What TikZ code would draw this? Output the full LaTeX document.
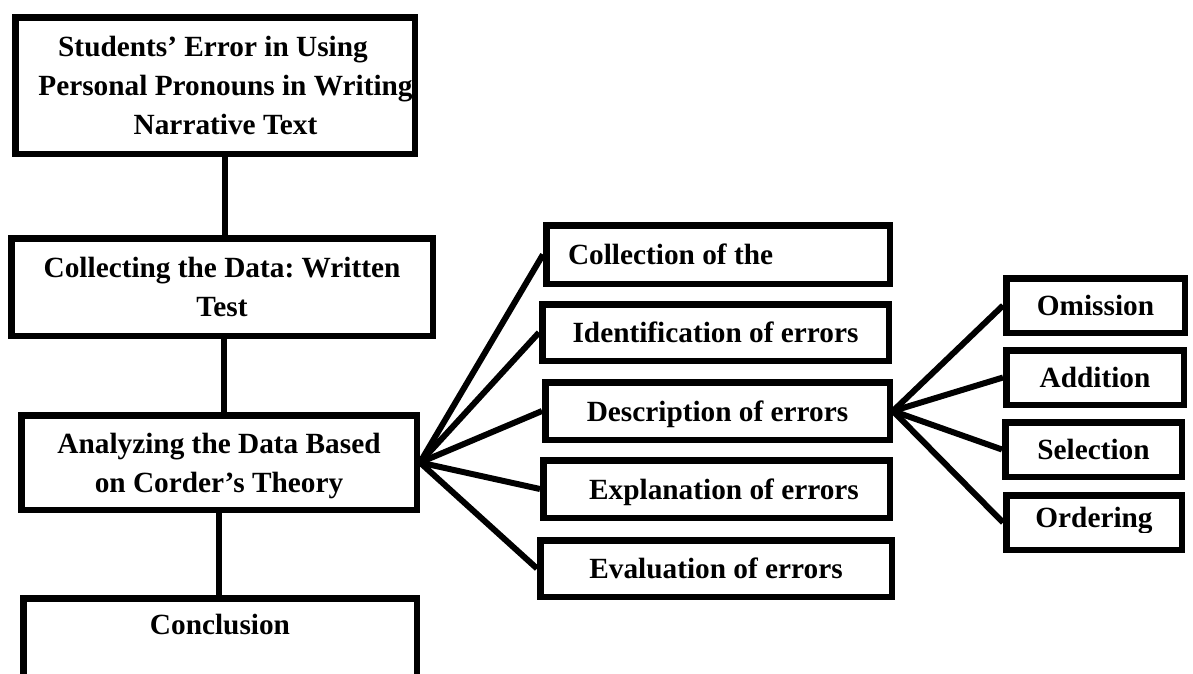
\documentclass[tikz,border=0pt]{standalone}
\usepackage{fontspec}
\setmainfont{Liberation Serif}
\begin{document}
\begin{tikzpicture}[x=1pt,y=-1pt,
  txt/.style={inner sep=0pt, align=center, font=\fontsize{29.3}{39}\selectfont\bfseries\frenchspacing},
  box/.style={txt, draw=black, line width=6.5pt},
  oneline/.style={text height=20pt, text depth=0pt},
  link/.style={draw=black, line width=6pt}]
\useasboundingbox (0,0) rectangle (1193,673);
\clip (0,0) rectangle (1193,673);

% main column
\node[box, minimum width=399.5pt, minimum height=136.5pt] (b1) at (215,85.5)
  {Students’ Error in Using\hspace*{4pt}\\\hspace*{21pt}Personal Pronouns in Writing\\\hspace*{21pt}Narrative Text};
\node[box, minimum width=421.5pt, minimum height=97.5pt] (b2) at (222,287)
  {Collecting the Data: Written\\Test};
\node[box, minimum width=395.5pt, minimum height=94.5pt] (b3) at (219,462.5) {};
\begin{scope}
  \clip (b3.north west) rectangle ([yshift=14pt]b3.south east);
  \node[txt] (b3t) at (b3.center) {Analyzing the Data Based\\on Corder’s \smash{Theory}};
\end{scope}
\node[box, minimum width=393.5pt, minimum height=150pt] (b4) at (220,673.25) {};
\node[txt, anchor=base] (b4t) at ([yshift=-39.75pt]b4.north) {Conclusion};

% steps of the analysis
\node[box, oneline, minimum width=343.5pt, minimum height=58.5pt, text width=300pt,
      inner xsep=21.75pt, align=flush left] (m1) at (718,254.5) {Collection of the};
\node[box, oneline, minimum width=346.5pt, minimum height=56.5pt] (m2) at (715.5,332.5) {Identification of errors};
\node[box, oneline, minimum width=344.5pt, minimum height=57.5pt] (m3) at (717.5,411) {Description of errors};
\node[box, oneline, minimum width=346.5pt, minimum height=57.5pt] (m4) at (716.5,489) {\hspace*{15pt}Explanation of errors};
\node[box, oneline, minimum width=351.5pt, minimum height=56.5pt] (m5) at (716,568.5) {Evaluation of errors};

% error categories
\node[box, oneline, minimum width=178.5pt, minimum height=54.5pt] (r1) at (1095.5,305.5) {Omission};
\node[box, oneline, minimum width=177.5pt, minimum height=54.5pt] (r2) at (1095,377.5) {Addition};
\node[box, oneline, minimum width=176.5pt, minimum height=54.5pt] (r3) at (1093.5,449.5) {Selection};
\node[box, minimum width=175.5pt, minimum height=54.5pt] (r4) at (1094,522.5) {};
\begin{scope}
  \clip (r4.north west) rectangle ([yshift=20.75pt]r4.south east);
  \node[txt, anchor=base] (r4t) at ([yshift=-4.5pt]r4.center) {Ordering};
\end{scope}

% connectors
\draw[link] ([xshift=10pt]b1.south) -- ([xshift=10pt]b1.south |- b2.north);
\draw[link] ([xshift=1.5pt]b2.south) -- ([xshift=1.5pt]b2.south |- b3.north);
\draw[link] (b3.south) -- (b3.south |- b4.north);
\foreach \n in {m1,m2,m3,m4,m5} \draw[link] (b3.east) -- (\n.west);
\foreach \n in {r1,r2,r3,r4} \draw[link] (m3.east) -- (\n.west);
\end{tikzpicture}
\end{document}
